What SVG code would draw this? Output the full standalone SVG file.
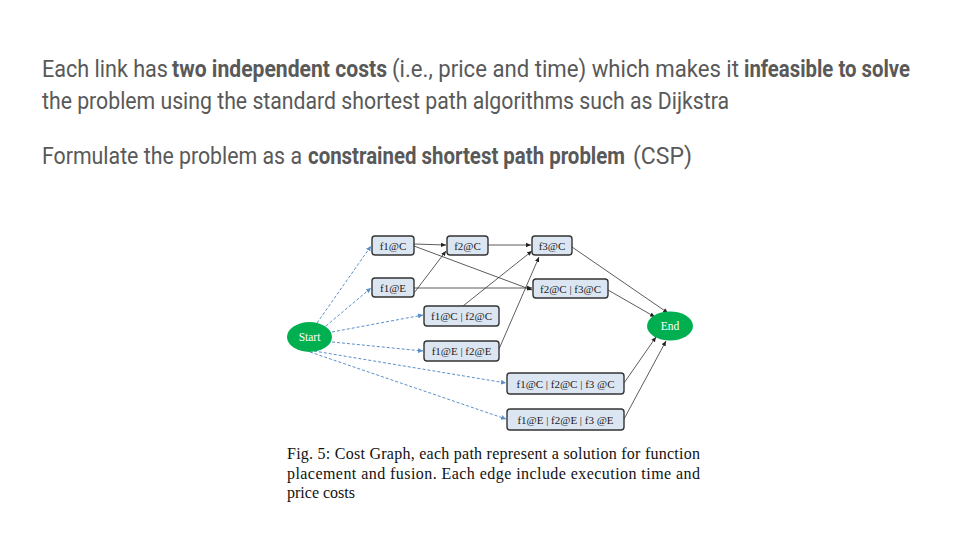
<svg xmlns="http://www.w3.org/2000/svg" width="960" height="540" viewBox="0 0 960 540">
<style>
.t{font-family:Roboto,"Liberation Sans",sans-serif;font-size:23px;fill:#595959}
.b{font-weight:bold}
.cap{font-family:"Liberation Serif",serif;font-size:16px;fill:#111}
.box{fill:#dce6f2;stroke:#333;stroke-width:1.4}
.lbl{font-family:"Liberation Serif","DejaVu Serif",serif;font-size:11px;fill:#222;text-anchor:middle}
.ov{fill:#00b050}
.ol{font-family:"Liberation Serif","DejaVu Serif",serif;font-size:11.5px;fill:#fff;text-anchor:middle}
.d{stroke:#5b8fc9;stroke-width:1;stroke-dasharray:3,2;fill:none;marker-end:url(#ab)}
.s{stroke:#333;stroke-width:0.8;fill:none;marker-end:url(#ak)}
</style>
<defs>
<marker id="ab" markerWidth="6" markerHeight="6" refX="5" refY="3" orient="auto" markerUnits="userSpaceOnUse"><path d="M0,0.5 L5,3 L0,5.5 Z" fill="#5b8fc9"/></marker>
<marker id="ak" markerWidth="6" markerHeight="6" refX="5" refY="3" orient="auto" markerUnits="userSpaceOnUse"><path d="M0,0.8 L5,3 L0,5.2 Z" fill="#222"/></marker>
</defs>
<rect width="960" height="540" fill="#fff"/>
<g id="heading">
<text class="t" x="42" y="77" textLength="126" lengthAdjust="spacingAndGlyphs">Each link has</text>
<text class="t b" x="172" y="77" textLength="215" lengthAdjust="spacingAndGlyphs">two independent costs</text>
<text class="t" x="392" y="77" textLength="347" lengthAdjust="spacingAndGlyphs">(i.e., price and time) which makes it</text>
<text class="t b" x="744" y="77" textLength="166" lengthAdjust="spacingAndGlyphs">infeasible to solve</text>
<text class="t" x="42" y="109" textLength="687" lengthAdjust="spacingAndGlyphs">the problem using the standard shortest path algorithms such as Dijkstra</text>
<text class="t" x="42" y="164" textLength="260" lengthAdjust="spacingAndGlyphs">Formulate the problem as a</text>
<text class="t b" x="308" y="164" textLength="317" lengthAdjust="spacingAndGlyphs">constrained shortest path problem</text>
<text class="t" x="633" y="164" textLength="59" lengthAdjust="spacingAndGlyphs">(CSP)</text>
</g>
<g id="connectors">
<path class="d" d="M317,323 L371,246"/>
<path class="d" d="M326,326 L371,288"/>
<path class="d" d="M332,332 L423,315"/>
<path class="d" d="M332,342 L423,351"/>
<path class="d" d="M314,351 L506,383"/>
<path class="d" d="M310,352 L506,419"/>
<path class="s" d="M414,244 L446,245"/>
<path class="s" d="M414,246 L532,290"/>
<path class="s" d="M414,293 L446,251"/>
<path class="s" d="M414,288 L532,288"/>
<path class="s" d="M488,245 L531,245"/>
<path class="s" d="M463,306 L532,251"/>
<path class="s" d="M499,349 L539,257"/>
<path class="s" d="M572,247 L668,313"/>
<path class="s" d="M608,290 L655,317"/>
<path class="s" d="M624,383 L656,337"/>
<path class="s" d="M624,419 L666,341"/>
</g>
<g id="start"><ellipse class="ov" cx="309.5" cy="337" rx="22.5" ry="15"/><text class="ol" x="309.5" y="341">Start</text></g>
<g id="end"><ellipse class="ov" cx="670" cy="326" rx="23" ry="14.5"/><text class="ol" x="670" y="330">End</text></g>
<g id="n_f1C"><rect class="box" x="372" y="236" width="42" height="19" rx="3"/><text class="lbl" x="393" y="249.5">f1@C</text></g>
<g id="n_f2C"><rect class="box" x="447" y="236" width="41" height="19" rx="3"/><text class="lbl" x="467.5" y="249.5">f2@C</text></g>
<g id="n_f3C"><rect class="box" x="532" y="236" width="40" height="19" rx="3"/><text class="lbl" x="552" y="249.5">f3@C</text></g>
<g id="n_f1E"><rect class="box" x="372" y="278" width="42" height="19" rx="3"/><text class="lbl" x="393" y="291.5">f1@E</text></g>
<g id="n_f2Cf3C"><rect class="box" x="533" y="279" width="75" height="19" rx="3"/><text class="lbl" x="570.5" y="292.5">f2@C | f3@C</text></g>
<g id="n_f1Cf2C"><rect class="box" x="424" y="306" width="75" height="20" rx="3"/><text class="lbl" x="461.5" y="320">f1@C | f2@C</text></g>
<g id="n_f1Ef2E"><rect class="box" x="424" y="341" width="75" height="20" rx="3"/><text class="lbl" x="461.5" y="355">f1@E | f2@E</text></g>
<g id="n_allC"><rect class="box" x="507" y="373" width="117" height="21" rx="3"/><text class="lbl" x="565.5" y="387.5">f1@C | f2@C | f3 @C</text></g>
<g id="n_allE"><rect class="box" x="507" y="409" width="117" height="21" rx="3"/><text class="lbl" x="565.5" y="423.5">f1@E | f2@E | f3 @E</text></g>
<g id="caption">
<text class="cap" x="287" y="459" textLength="413" lengthAdjust="spacing">Fig. 5: Cost Graph, each path represent a solution for function</text>
<text class="cap" x="287" y="478.5" textLength="413" lengthAdjust="spacing">placement and fusion. Each edge include execution time and</text>
<text class="cap" x="287" y="498">price costs</text>
</g>
</svg>
